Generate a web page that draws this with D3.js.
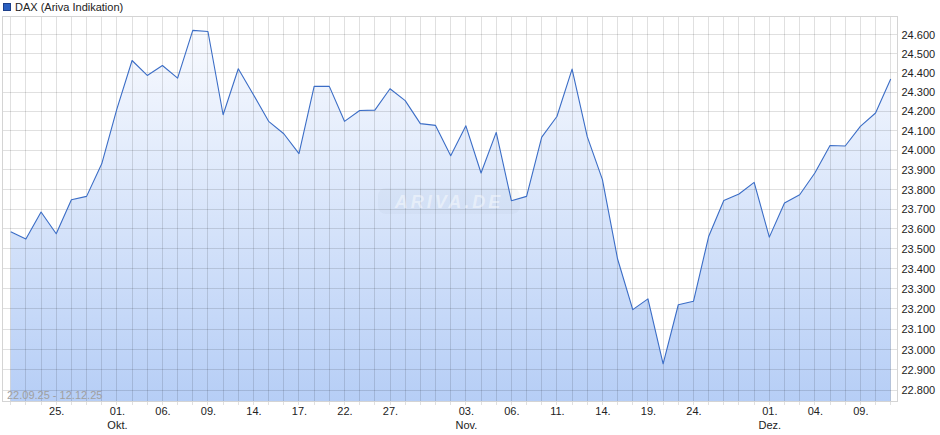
<!DOCTYPE html>
<html><head><meta charset="utf-8">
<script src="https://cdn.jsdelivr.net/npm/d3@7"></script>
<style>
html,body{margin:0;padding:0;background:#fff;}
svg{display:block;font-family:"Liberation Sans",Arial,sans-serif;}
</style></head>
<body><svg id="c" width="940" height="435"></svg>
<script>
const seriesName = "DAX (Ariva Indikation)";
const rangeLabel = "22.09.25 - 12.12.25";
const dates = [
 "2025-09-22","2025-09-23","2025-09-24","2025-09-25","2025-09-26",
 "2025-09-29","2025-09-30","2025-10-01","2025-10-02","2025-10-03",
 "2025-10-06","2025-10-07","2025-10-08","2025-10-09","2025-10-10",
 "2025-10-13","2025-10-14","2025-10-15","2025-10-16","2025-10-17",
 "2025-10-20","2025-10-21","2025-10-22","2025-10-23","2025-10-24",
 "2025-10-27","2025-10-28","2025-10-29","2025-10-30","2025-10-31",
 "2025-11-03","2025-11-04","2025-11-05","2025-11-06","2025-11-07",
 "2025-11-10","2025-11-11","2025-11-12","2025-11-13","2025-11-14",
 "2025-11-17","2025-11-18","2025-11-19","2025-11-20","2025-11-21",
 "2025-11-24","2025-11-25","2025-11-26","2025-11-27","2025-11-28",
 "2025-12-01","2025-12-02","2025-12-03","2025-12-04","2025-12-05",
 "2025-12-08","2025-12-09","2025-12-10","2025-12-11"
];
const values = [
 23586,23549,23686,23576,23748,
 23765,23931,24213,24465,24387,
 24439,24373,24623,24617,24183,
 24422,24287,24149,24085,23983,
 24330,24330,24149,24205,24207,
 24318,24256,24137,24128,23972,
 24126,23884,24092,23743,23765,
 24068,24174,24420,24070,23850,
 23449,23197,23250,22930,23221,
 23238,23562,23744,23777,23836,
 23559,23731,23773,23884,24025,
 24022,24123,24192,24368
];
const xTickDates = ["2025-09-25","2025-10-01","2025-10-06","2025-10-09","2025-10-14","2025-10-17","2025-10-22","2025-10-27","2025-11-03","2025-11-06","2025-11-11","2025-11-14","2025-11-19","2025-11-24","2025-12-01","2025-12-04","2025-12-09"];
const monthLabels = {"2025-10-01":"Okt.","2025-11-03":"Nov.","2025-12-01":"Dez."};
const yTicks = [22800,22900,23000,23100,23200,23300,23400,23500,23600,23700,23800,23900,24000,24100,24200,24300,24400,24500,24600];
const yDomain = [22746,24696];

const svg = d3.select("#c");
const L = 2.5, R = 897.5, T = 16.5, B = 401.5;

const x = d3.scalePoint().domain(dates).range([10.7, 890.7]).padding(0);
const y = d3.scaleLog().domain(yDomain).range([B, T]);
const de = d3.formatLocale({decimal:",", thousands:".", grouping:[3], currency:["","€"]});
const fmt = de.format(",.0f");

const defs = svg.append("defs");
const grad = defs.append("linearGradient").attr("id","g").attr("gradientUnits","userSpaceOnUse")
  .attr("x1",0).attr("x2",0).attr("y1",T).attr("y2",B);
grad.append("stop").attr("offset","0%").attr("stop-color","#fbfcff");
grad.append("stop").attr("offset","100%").attr("stop-color","#b6cef6");

svg.append("rect").attr("x",L).attr("y",T).attr("width",R-L).attr("height",B-T).attr("fill","#fff");

const data = dates.map((d,i)=>({d, v: values[i]}));

svg.append("path").datum(data)
  .attr("d", d3.area().x(p=>x(p.d)).y0(B).y1(p=>y(p.v)))
  .attr("fill","url(#g)");

const grid = svg.append("g").attr("stroke","rgba(0,0,0,0.12)").attr("stroke-width",1).attr("shape-rendering","crispEdges");
dates.forEach(d=>{
  grid.append("line").attr("x1",x(d)).attr("x2",x(d)).attr("y1",T).attr("y2",B+3);
});
yTicks.forEach(t=>{
  grid.append("line").attr("x1",L).attr("x2",R).attr("y1",y(t)).attr("y2",y(t));
});

svg.append("rect").attr("x",L).attr("y",T).attr("width",R-L).attr("height",B-T)
  .attr("fill","none").attr("stroke","#d4d4d4").attr("shape-rendering","crispEdges");

const wm = svg.append("g");
wm.append("rect").attr("x",378).attr("y",188).attr("width",142).attr("height",26).attr("rx",8)
  .attr("fill","rgba(110,130,165,0.05)");
wm.append("text").attr("x",449).attr("y",208).attr("text-anchor","middle")
  .attr("font-size",18).attr("font-style","italic").attr("font-weight","bold")
  .attr("letter-spacing",3).attr("fill","rgba(255,255,255,0.45)").text("ARIVA.DE");

svg.append("path").datum(data)
  .attr("d", d3.line().x(p=>x(p.d)).y(p=>y(p.v)))
  .attr("fill","none").attr("stroke","#3b6dc6").attr("stroke-width",1.1).attr("stroke-linejoin","round");

svg.append("text").attr("x",7).attr("y",399).attr("font-size",11).attr("fill","#a0a0a0").text(rangeLabel);

const xAxis = d3.axisBottom(x).tickValues(xTickDates).tickSize(0).tickPadding(0)
  .tickFormat(d=>d.slice(8,10)+".");
const gx = svg.append("g").attr("transform",`translate(0,${B})`).call(xAxis);
gx.select(".domain").remove();
gx.selectAll(".tick text").attr("font-size",11).attr("fill","#222").attr("font-family","Liberation Sans, Arial, sans-serif")
  .attr("y",6).attr("dy","0.71em");
gx.selectAll(".tick").each(function(d){
  if(monthLabels[d]){
    d3.select(this).append("text").attr("y",20).attr("dy","0.71em").attr("font-size",11)
      .attr("fill","#222").attr("text-anchor","middle").attr("font-family","Liberation Sans, Arial, sans-serif")
      .text(monthLabels[d]);
  }
});

const yAxis = d3.axisRight(y).tickValues(yTicks).tickSize(0).tickPadding(4).tickFormat(fmt);
const gy = svg.append("g").attr("transform",`translate(${R},0)`).call(yAxis);
gy.select(".domain").remove();
gy.selectAll(".tick text").attr("font-size",11).attr("fill","#222").attr("font-family","Liberation Sans, Arial, sans-serif");

svg.append("rect").attr("x",3.5).attr("y",3.5).attr("width",7).attr("height",7)
  .attr("fill","#2a5fc0").attr("stroke","#1d3f8a").attr("stroke-width",1);
svg.append("text").attr("x",15).attr("y",11).attr("font-size",11).attr("fill","#222").text(seriesName);
</script></body></html>
